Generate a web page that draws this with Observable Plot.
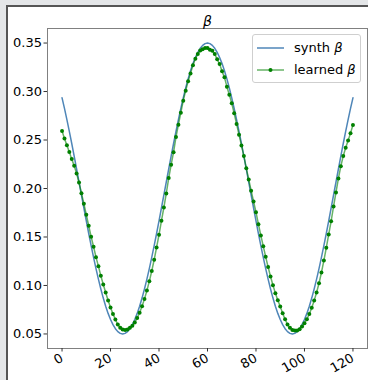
<!DOCTYPE html>
<html><head><meta charset="utf-8">
<script src="https://cdn.jsdelivr.net/npm/d3@7"></script>
<script src="https://cdn.jsdelivr.net/npm/@observablehq/plot@0.6"></script>
<style>
html,body{margin:0;padding:0;}
body{width:368px;height:380px;background:#e4e6e8;position:relative;overflow:hidden;font-family:"DejaVu Sans",sans-serif;}
#panel{position:absolute;left:6px;top:5px;right:0;bottom:0;background:#fff;border-left:2px solid #555;border-top:2px solid #555;}
#chart{position:absolute;left:0;top:0;}
#legend{position:absolute;left:252px;top:34px;width:107px;height:47px;border:1px solid #cfcfcf;border-radius:3px;background:rgba(255,255,255,0.85);font-size:13px;color:#000;}
.row{position:absolute;left:0;height:16px;}
.row svg{position:absolute;left:4px;top:0;}
.row span{position:absolute;left:41px;top:0;line-height:16px;white-space:nowrap;}
</style></head>
<body>
<div id="panel"></div>
<div id="chart"></div>
<div id="legend">
  <div class="row" style="top:5px"><svg width="28" height="16"><line x1="0" x2="27" y1="8" y2="8" stroke="#4f86b8" stroke-width="1.5"/></svg><span>synth <i>β</i></span></div>
  <div class="row" style="top:27px"><svg width="28" height="16"><line x1="0" x2="27" y1="8" y2="8" stroke="green" stroke-opacity="0.6" stroke-width="1.5"/><circle cx="13.5" cy="8" r="2" fill="green"/></svg><span>learned <i>β</i></span></div>
</div>
<script>
const xTicks = [0, 20, 40, 60, 80, 100, 120];
const yTicks = [0.05, 0.10, 0.15, 0.20, 0.25, 0.30, 0.35];

const synthBeta = [
0.2935,0.2827,0.2711,0.2590,0.2464,0.2334,0.2201,0.2067,0.1933,0.1799,0.1666,0.1536,0.1410,0.1289,0.1173,0.1065,0.0964,0.0870,0.0786,0.0712,0.0649,0.0596,0.0554,0.0524,0.0506,0.0500,
0.0506,0.0524,0.0554,0.0596,0.0649,0.0712,0.0786,0.0870,0.0964,0.1065,0.1173,0.1289,0.1410,0.1536,0.1666,0.1799,0.1933,0.2067,0.2201,0.2334,0.2464,0.2590,0.2711,0.2827,0.2935,0.3036,0.3130,0.3214,0.3288,0.3351,0.3404,0.3446,0.3476,0.3494,0.3500,
0.3494,0.3476,0.3446,0.3404,0.3351,0.3288,0.3214,0.3130,0.3036,0.2935,0.2827,0.2711,0.2590,0.2464,0.2334,0.2201,0.2067,0.1933,0.1799,0.1666,0.1536,0.1410,0.1289,0.1173,0.1065,0.0964,0.0870,0.0786,0.0712,0.0649,0.0596,0.0554,0.0524,0.0506,0.0500,
0.0506,0.0524,0.0554,0.0596,0.0649,0.0712,0.0786,0.0870,0.0964,0.1065,0.1173,0.1289,0.1410,0.1536,0.1666,0.1799,0.1933,0.2067,0.2201,0.2334,0.2464,0.2590,0.2711,0.2827,0.2935
];

const learnedBeta = [
0.2592,0.2515,0.2447,0.2377,0.2303,0.2235,0.2155,0.2062,0.1952,0.1843,0.1729,0.1616,0.1502,0.1399,0.1292,0.1199,0.1100,0.1010,0.0927,0.0845,0.0772,0.0707,0.0649,0.0597,0.0563,0.0545,0.0542,0.0545,0.0563,0.0584,
0.0619,0.0664,0.0719,0.0785,0.0861,0.0947,0.1043,0.1149,0.1265,0.1392,
0.1523,0.1667,0.1804,0.1949,0.2107,0.2245,0.2375,0.2530,0.2658,0.2782,0.2906,0.3009,0.3105,0.3187,0.3270,0.3339,0.3386,
0.3422,0.3435,0.3448,0.3450,0.3432,0.3420,0.3386,
0.3332,0.3283,0.3208,0.3146,0.3050,0.2967,0.2878,0.2775,0.2664,0.2555,0.2444,0.2334,0.2210,0.2093,0.1977,0.1866,0.1756,0.1632,0.1516,0.1405,
0.1295,0.1190,0.1093,0.1003,0.0921,0.0848,0.0783,
0.0714,0.0652,0.0597,0.0563,0.0542,0.0535,0.0535,0.0549,0.0576,
0.0611,0.0652,0.0707,0.0769,0.0845,0.0927,0.1023,0.1134,0.1257,0.1389,0.1526,0.1663,0.1815,0.1959,0.2104,0.2230,0.2335,0.2420,0.2496,0.2571,0.2654
];

const synth = synthBeta.map((v, i) => ({x: i, v}));
const learned = learnedBeta.map((v, i) => ({x: i, v}));

const chart = Plot.plot({
  width: 368, height: 380,
  marginLeft: 47, marginRight: 1, marginTop: 28, marginBottom: 32,
  style: {background: "transparent", fontFamily: "DejaVu Sans, sans-serif", fontSize: "13px", color: "#000", overflow: "visible"},
  x: {domain: [-6, 126]},
  y: {domain: [0.035, 0.365]},
  marks: [
    Plot.frame({stroke: "#808080"}),
    Plot.axisY({ticks: yTicks, tickFormat: d3.format(".2f"), tickSize: 3.5, tickPadding: 2, label: null, stroke: "#333", fontSize: 13}),
    Plot.axisX({ticks: xTicks, tickRotate: -30, tickSize: 3.5, tickPadding: 5, label: null, stroke: "#333", fontSize: 13}),
    Plot.line(synth, {x: "x", y: "v", stroke: "#4f86b8", strokeWidth: 1.5}),
    Plot.line(learned, {x: "x", y: "v", stroke: "green", strokeOpacity: 0.6, strokeWidth: 1.5}),
    Plot.dot(learned, {x: "x", y: "v", fill: "green", r: 2}),
    Plot.text(["β"], {text: d => d, frameAnchor: "top", lineAnchor: "bottom", dy: -3, fontStyle: "italic", fontSize: 14, fill: "#000"})
  ]
});
document.getElementById("chart").appendChild(chart);
</script>
</body></html>
